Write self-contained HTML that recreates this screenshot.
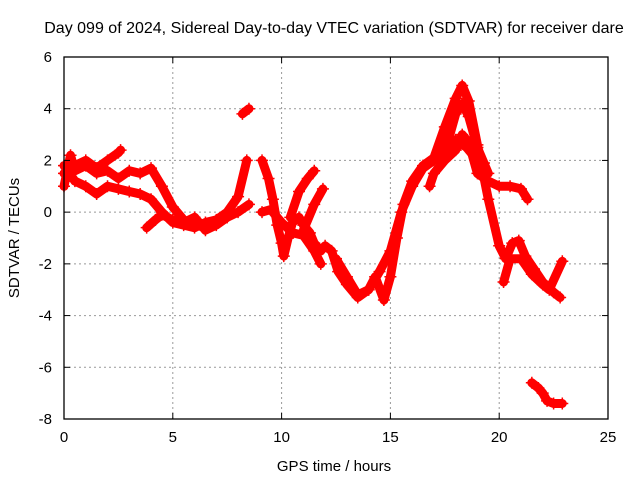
<!DOCTYPE html>
<html><head><meta charset="utf-8"><style>
html,body{margin:0;padding:0;background:#fff;}
svg{display:block;font-family:"Liberation Sans","DejaVu Sans",sans-serif;}
</style></head><body>
<svg id="chart" width="640" height="480" viewBox="0 0 640 480">
<rect width="640" height="480" fill="#fff"/>
<text x="334" y="33" font-size="16" text-anchor="middle" fill="#000">Day 099 of 2024, Sidereal Day-to-day VTEC variation (SDTVAR) for receiver dare</text>
<text x="334" y="471" font-size="15" text-anchor="middle">GPS time / hours</text>
<text transform="translate(19,238) rotate(-90)" font-size="15" text-anchor="middle">SDTVAR / TECUs</text>
<g id="grid"></g>
<g id="series"></g>
<rect x="64" y="57" width="544" height="362" fill="none" stroke="#000" stroke-width="1.3"/>
<g id="ticks"></g>
</svg>
<script>
const xTicks=[0,5,10,15,20,25];
const yTicks=[-8,-6,-4,-2,0,2,4,6];
const t1x=[0,0.3,0.5,1,1.5,2,2.5,3,3.5,4,4.5,5,5.5,6];
const t1y=[1.0,2.2,1.6,1.8,1.5,1.6,1.3,1.6,1.5,1.7,1.0,0.2,-0.3,-0.5];
const t2x=[0,0.5,1,1.5,2,2.5,2.6];
const t2y=[1.5,1.8,2.0,1.7,2.0,2.3,2.4];
const t3x=[0,0.5,1,1.5,2,2.5,3,3.5,4,4.5,5,5.5,6,6.5,7,7.5,8,8.4];
const t3y=[1.8,1.2,1.0,0.7,1.0,0.9,0.8,0.7,0.5,0,-0.4,-0.5,-0.6,-0.4,-0.3,0,0.6,2.0];
const t4x=[3.8,4.2,4.5,5,5.5,6,6.5,7,7.5,8,8.5];
const t4y=[-0.6,-0.3,-0.1,-0.3,-0.4,-0.2,-0.7,-0.5,-0.2,0,0.3];
const t5x=[8.2,8.5];
const t5y=[3.8,4.0];
const t6x=[9.1,9.4,9.6,9.8,10,10.1,10.3,10.5,10.8,11,11.3,11.5,11.8,12,12.3,12.6,13,13.5,14,14.3,14.7,15,15.3,15.6,16,16.5,17,17.5,18,18.3,18.6,19,19.5,20,20.3,20.6,20.9,21.2,21.6,22,22.5,22.8];
const t6y=[2.0,1.3,0.5,-0.5,-1.2,-1.7,-1.0,-0.4,-0.2,-0.5,-0.8,-1.2,-1.5,-1.3,-1.5,-2.3,-2.8,-3.3,-3.0,-2.5,-3.4,-2.5,-1.0,0.3,1.2,1.8,2.1,3.3,4.4,4.9,4.3,2.6,0.5,-1.3,-1.8,-1.2,-1.1,-1.7,-2.2,-2.7,-3.1,-3.3];
const t7x=[9.1,9.5,10,10.5,11,11.5,11.8];
const t7y=[0,0.1,-0.4,-0.8,-0.9,-1.5,-2.0];
const t8x=[10.4,10.8,11.2,11.5];
const t8y=[-0.2,0.8,1.3,1.6];
const t9x=[11.0,11.5,11.9];
const t9y=[-0.7,0.3,0.9];
const t10x=[12.5,13,13.5,14,14.5,15,15.5,16,16.5,17,17.5,18,18.3,18.6,19,19.5];
const t10y=[-1.8,-2.5,-3.2,-3.0,-2.3,-1.5,0,1.0,1.7,2.0,2.3,3.8,4.2,3.7,2.5,1.5];
const t11x=[16.8,17,17.5,18,18.3,18.6,19,19.5,20,20.5,21,21.3];
const t11y=[1.0,1.5,2.0,2.4,3.0,2.7,1.5,1.2,1.0,1.0,0.9,0.5];
const t12x=[17.4,18,18.5,19,19.3];
const t12y=[2.2,2.8,2.5,2.0,1.9];
const t13x=[20.2,20.5,21,21.5,22,22.3,22.9];
const t13y=[-2.7,-1.8,-1.8,-2.4,-2.8,-3.0,-1.9];
const t14x=[21.5,21.8,22,22.2,22.5,22.9];
const t14y=[-6.6,-6.8,-7.0,-7.3,-7.4,-7.4];
const tracks=[[t1x,t1y],[t2x,t2y],[t3x,t3y],[t4x,t4y],[t5x,t5y],[t6x,t6y],[t7x,t7y],[t8x,t8y],[t9x,t9y],[t10x,t10y],[t11x,t11y],[t12x,t12y],[t13x,t13y],[t14x,t14y]];

const X0=64,X1=608,Y0=419,Y1=57;
function sx(v){return X0+(v-0)/(25-0)*(X1-X0);}
function sy(v){return Y0-(v-(-8))/(6-(-8))*(Y0-Y1);}
const NS="http://www.w3.org/2000/svg";
function mk(tag,attrs,parent){const e=document.createElementNS(NS,tag);for(const k in attrs)e.setAttribute(k,attrs[k]);parent.appendChild(e);return e;}
const grid=document.getElementById('grid'),ticks=document.getElementById('ticks'),series=document.getElementById('series');
xTicks.forEach(v=>{
  const x=sx(v);
  if(v>0&&v<25){const g=mk('line',{x1:x,x2:x,y1:Y1,y2:Y0,stroke:'#999','stroke-dasharray':'2,3'},grid);
  
  }
  mk('line',{x1:x,x2:x,y1:Y0,y2:Y0-6,stroke:'#000'},ticks);
  mk('line',{x1:x,x2:x,y1:Y1,y2:Y1+6,stroke:'#000'},ticks);
  const t=mk('text',{x:x,y:Y0+23,'font-size':15,'text-anchor':'middle'},ticks);
  t.textContent=v;
  
  
});
yTicks.forEach(v=>{
  const y=sy(v);
  if(v>-8&&v<6){const g=mk('line',{x1:X0,x2:X1,y1:y,y2:y,stroke:'#999','stroke-dasharray':'2,3'},grid);
  
  }
  mk('line',{x1:X0,x2:X0+6,y1:y,y2:y,stroke:'#000'},ticks);
  mk('line',{x1:X1,x2:X1-6,y1:y,y2:y,stroke:'#000'},ticks);
  const t=mk('text',{x:X0-12,y:y+5,'font-size':15,'text-anchor':'end'},ticks);
  t.textContent=v;
  
  
});
tracks.forEach((tr,i)=>{
  const xs=tr[0],ys=tr[1];
  const pts=xs.map((x,j)=>sx(x).toFixed(1)+','+sy(ys[j]).toFixed(1)).join(' ');
  const p=mk('polyline',{points:pts,fill:'none',stroke:'#ff0000','stroke-width':9,'stroke-linejoin':'round','stroke-linecap':'round'},series);
  
  
  let d='';
  xs.forEach((x,j)=>{const px=sx(x),py=sy(ys[j]);d+=`M${px-6},${py}h12M${px},${py-6}v12`;});
  const m=mk('path',{d:d,stroke:'#ff0000','stroke-width':1.5},series);
  
  
});
</script>
</body></html>
